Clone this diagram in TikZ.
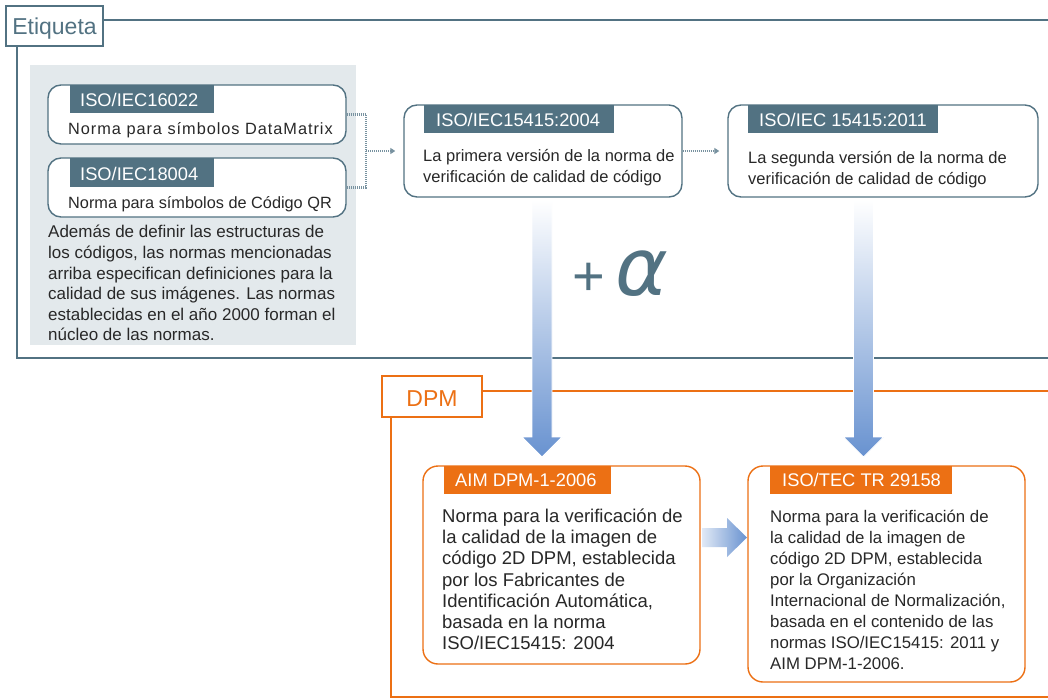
\documentclass[tikz,border=0pt]{standalone}
\usepackage{fontspec}
\setmainfont{Liberation Sans}
\newfontfamily\alphafont{DejaVu Sans}
\usetikzlibrary{arrows.meta}
\definecolor{slate}{RGB}{82,114,130}
\definecolor{slatedot}{RGB}{120,146,160}
\definecolor{panel}{RGB}{227,233,236}
\definecolor{orng}{RGB}{236,112,20}
\definecolor{txtc}{RGB}{40,40,40}
\definecolor{arrowblue}{RGB}{104,146,208}
\newcommand\firstln{\rule{0pt}{0.8em}}
\begin{document}
\begin{tikzpicture}[x=1pt,y=-1pt,
  sbox/.style={draw=slate,line width=1.4pt,fill=white,rounded corners=13pt,inner sep=0pt},
  obox/.style={draw=orng,line width=1.4pt,fill=white,rounded corners=15pt,inner sep=0pt},
  stab/.style={fill=slate,inner sep=0pt,anchor=north west},
  otab/.style={fill=orng,inner sep=0pt,anchor=north west},
  lbl/.style={anchor=base west,inner sep=0pt,text=white,font=\fontsize{18.3}{20}\selectfont},
  txt/.style={anchor=north west,inner sep=0pt,align=left,text=txtc},
  one/.style={anchor=base west,inner sep=0pt,text=txtc,font=\fontsize{16.3}{20}\selectfont},
  eframe/.style={draw=slate,line width=2.6pt},
  oframe/.style={draw=orng,line width=2.6pt},
  dotc/.style={draw=slatedot,line width=2.2pt,dash pattern=on 1pt off 1pt},
  fat/.style={draw=white,line width=0.8pt}
]
\useasboundingbox (0,0) rectangle (1048,699);
\fill[white] (0,0) rectangle (1048,699);

% Etiqueta frame
\draw[eframe] (1052,20) -- (17,20) -- (17,358) -- (1052,358);
\node[draw=slate,line width=2.6pt,fill=white,minimum width=97pt,minimum height=40pt,inner sep=0pt,
  text=slate,font=\fontsize{23}{24}\selectfont,text height=16pt,text depth=0pt] (et) at (54.5,26) {Etiqueta};

% DPM frame
\draw[oframe] (1052,391) -- (391,391) -- (391,697) -- (1052,697);
\node[draw=orng,line width=2.6pt,fill=white,minimum width=100pt,minimum height=41pt,inner sep=0pt,
  text=orng,font=\fontsize{23}{24}\selectfont,text height=19pt,text depth=0pt] (dpm) at (432,396.5) {DPM};

% gray panel
\fill[panel] (30,65) rectangle (356,345);

% boxes
\node[sbox,minimum width=298pt,minimum height=59pt] (b1) at (197,114.5) {};
\node[sbox,minimum width=298pt,minimum height=59pt] (b2) at (197,187.5) {};
\node[sbox,minimum width=278pt,minimum height=92pt] (b3) at (543,151) {};
\node[sbox,minimum width=310pt,minimum height=92pt] (b4) at (883,151) {};
\node[obox,minimum width=277pt,minimum height=198pt] (b5) at (561.5,565) {};
\node[obox,minimum width=277pt,minimum height=216pt] (b6) at (886.5,574) {};

% tabs
\node[stab,minimum width=144pt,minimum height=28pt] (t1) at (70,85) {};
\node[stab,minimum width=144pt,minimum height=29pt] (t2) at (70,158) {};
\node[stab,minimum width=190pt,minimum height=28pt] (t3) at (424,105) {};
\node[stab,minimum width=190pt,minimum height=28pt] (t4) at (748,105) {};
\node[otab,minimum width=167pt,minimum height=28pt] (t5) at (444,466) {};
\node[otab,minimum width=182pt,minimum height=28pt] (t6) at (770,466) {};

% tab labels
\node[lbl] (l1) at (80,106) {ISO/IEC16022};
\node[lbl] (l2) at (80,180) {ISO/IEC18004};
\node[lbl] (l3) at (436,126) {ISO/IEC15415:2004};
\node[lbl] (l4) at (759,126) {ISO/IEC 15415:2011};
\node[lbl] (l5) at (455,486.7) {AIM DPM-1-2006};
\node[lbl] (l6) at (782,486.7) {ISO/TEC TR 29158};

% texts
\node[one] (x1) at (68,134) {\addfontfeature{LetterSpace=6}Norma para símbolos DataMatrix};
\node[one] (x2) at (68,208) {Norma para símbolos de Código QR};
\node[txt,font=\fontsize{17}{20.6}\selectfont] (p) at (48,224.1)
  {\firstln Además de definir las estructuras de\\
   los códigos, las normas mencionadas\\
   arriba especifican definiciones para la\\
   calidad de sus imágenes. Las normas\\
   establecidas en el año 2000 forman el\\
   núcleo de las normas.};
\node[txt,font=\fontsize{16.5}{21}\selectfont] (x3) at (423,148.5)
  {\firstln La primera versión de la norma de\\
   verificación de calidad de código};
\node[txt,font=\fontsize{16.5}{21}\selectfont] (x4) at (748,149.8)
  {\firstln La segunda versión de la norma de\\
   verificación de calidad de código};
\node[txt,font=\fontsize{18.5}{21.2}\selectfont] (x5) at (442,507.5)
  {\firstln Norma para la verificación de\\
   la calidad de la imagen de\\
   código 2D DPM, establecida\\
   por los Fabricantes de\\
   Identificación Automática,\\
   basada en la norma\\
   ISO/IEC15415: 2004};
\node[txt,font=\fontsize{16.8}{20.95}\selectfont] (x6) at (770,508.9)
  {\firstln Norma para la verificación de\\
   la calidad de la imagen de\\
   código 2D DPM, establecida\\
   por la Organización\\
   Internacional de Normalización,\\
   basada en el contenido de las\\
   normas ISO/IEC15415: 2011 y\\
   AIM DPM-1-2006.};

% dotted connectors
\coordinate (j) at (366,151);
\draw[dotc] (b1.east) -| (j) |- (b2.east);
\draw[dotc,-{Triangle[length=5pt,width=6pt]},shorten >=8pt] (j) -- (b3.west);
\draw[dotc,-{Triangle[length=5pt,width=6pt]},shorten >=8pt] (b3.east) -- (b4.west);

% big gradient arrows
\path[fat,top color=white,bottom color=arrowblue]
  (532,200) -- (552,200) -- (552,437) -- (562,437) -- (542,457) -- (522,437) -- (532,437) -- cycle;
\path[fat,top color=white,bottom color=arrowblue]
  (853.5,200) -- (873.5,200) -- (873.5,437) -- (883.5,437) -- (863.5,457) -- (843.5,437) -- (853.5,437) -- cycle;
\path[left color=white!80!arrowblue,right color=arrowblue]
  (702,528) -- (727,528) -- (727,518) -- (747,537.5) -- (727,557) -- (727,547) -- (702,547) -- cycle;

% + alpha
\node[anchor=base west,inner sep=0pt,text=slate] (alpha) at (572,295)
  {\fontsize{56}{56}\selectfont +\hspace{11pt}{\alphafont\itshape\fontsize{80}{80}\selectfont α}};
\end{tikzpicture}
\end{document}
